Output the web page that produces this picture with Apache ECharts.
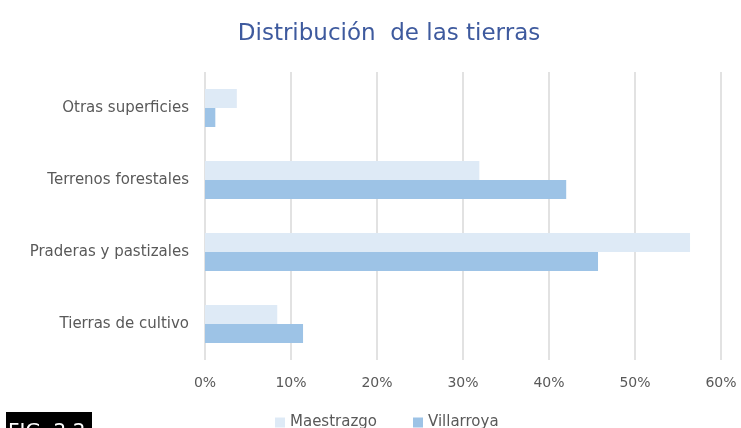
<!DOCTYPE html>
<html>
<head>
<meta charset="utf-8">
<script src="https://cdn.jsdelivr.net/npm/echarts@6/dist/echarts.min.js"></script>
<style>
  html, body { margin: 0; padding: 0; background: #fff; }
  #chart { width: 741px; height: 428px; }
</style>
</head>
<body>
<div id="chart"></div>
<script>
// categories bottom to top
const categories = ["Tierras de cultivo", "Praderas y pastizales", "Terrenos forestales", "Otras superficies"];
const maestrazgo = [8.4, 56.4, 31.9, 3.7];
const villarroya = [11.4, 45.7, 42.0, 1.2];
const xTicks = [0, 10, 20, 30, 40, 50, 60];

const chart = echarts.init(document.getElementById("chart"));
const font = "'DejaVu Sans', sans-serif";

chart.setOption({
  animation: false,
  title: {
    text: "Distribución  de las tierras",
    left: 384,
    textAlign: "center",
    top: 18,
    textStyle: { color: "#3e5a9e", fontSize: 23, fontWeight: "normal", fontFamily: font }
  },
  legend: {
    data: ["Maestrazgo", "Villarroya"],
    top: 410,
    left: 270,
    itemWidth: 10,
    itemHeight: 10,
    itemGap: 36,
    icon: "rect",
    textStyle: { color: "#595959", fontSize: 15, fontFamily: font }
  },
  grid: { left: 205, right: 20, top: 72, bottom: 68 },
  xAxis: {
    type: "value",
    min: xTicks[0],
    max: xTicks[xTicks.length - 1],
    interval: 10,
    axisLine: { show: false },
    axisTick: { show: false },
    axisLabel: { color: "#595959", fontSize: 14, fontFamily: font, margin: 16, formatter: "{value}%" },
    splitLine: { lineStyle: { color: "#d9d9d9", width: 1.5 } }
  },
  yAxis: {
    type: "category",
    data: categories,
    axisLine: { show: false },
    axisTick: { show: false },
    axisLabel: { color: "#595959", fontSize: 15, fontFamily: font, margin: 16 }
  },
  series: [
    {
      name: "Maestrazgo",
      type: "bar",
      data: maestrazgo,
      barWidth: 19,
      barGap: "0%",
      itemStyle: { color: "#deeaf6" }
    },
    {
      name: "Villarroya",
      type: "bar",
      data: villarroya,
      barWidth: 19,
      barGap: "0%",
      itemStyle: { color: "#9dc3e6" }
    }
  ],
  graphic: [
    {
      type: "rect",
      left: 6,
      top: 412,
      shape: { width: 86, height: 20 },
      style: { fill: "#000" }
    },
    {
      type: "text",
      left: 8,
      top: 422,
      style: { text: "FIG. 2.2", fill: "#fff", fontSize: 20, fontFamily: font }
    }
  ]
});
</script>
</body>
</html>
